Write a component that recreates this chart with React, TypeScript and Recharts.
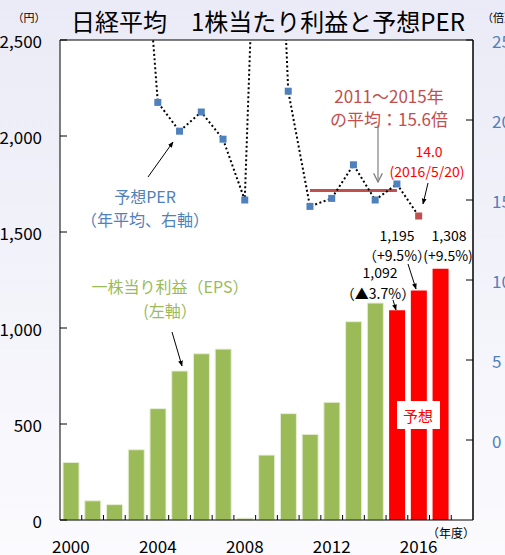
import React from 'react';
import { ComposedChart, Bar, Line, XAxis, YAxis, CartesianGrid, ReferenceLine, Cell } from 'recharts';

// 年度
const years = [2000, 2001, 2002, 2003, 2004, 2005, 2006, 2007, 2008, 2009, 2010, 2011, 2012, 2013, 2014, 2015, 2016, 2017, 2018];
// 一株当り利益（円）
const eps = [300, 100, 80, 366, 580, 776, 866, 890, 9, 338, 554, 446, 613, 1033, 1130, 1092, 1195, 1308, null];
// 予想PER（倍、年平均）
const per = [null, null, null, 39, 21.1, 19.3, 20.5, 18.8, 15.0, 54, 21.8, 14.6, 15.1, 17.2, 15.0, 16.0, 14.0, null, null];
// 2011〜2015年の平均
const perAverage = [null, null, null, null, null, null, null, null, null, null, null, 15.6, 15.6, 15.6, 15.6, 15.6, null, null, null];

const forecastFrom = 2015;
const perLatestYear = 2016;
const labeledYears = [2000, 2004, 2008, 2012, 2016];
const leftTicks = [0, 500, 1000, 1500, 2000, 2500];
const rightTicks = [0, 5, 10, 15, 20, 25];

const data = years.map((year, i) => ({ year, eps: eps[i], per: per[i], avg: perAverage[i] }));

const W = 505;
const H = 555;
const PLOT_W = 413;
const BAND = PLOT_W / years.length;
const FONT = '"Noto Sans CJK JP", "Noto Sans", sans-serif';
const BLUE = '#4F81BD';
const GREEN = '#9BBB59';
const BRICK = '#C0504D';
const RED = '#FF0000';

function LeftTick({ x, y, payload }: any) {
  return (
    <g>
      <line x1={x + 18} x2={x + 25} y1={y} y2={y} stroke="#000" />
      <text x={x} y={y} textAnchor="end" dominantBaseline="central" fontSize={17} fill="#000" fontFamily={FONT}>
        {Number(payload.value).toLocaleString('en-US')}
      </text>
    </g>
  );
}

function RightTick({ x, y, payload }: any) {
  return (
    <g>
      <line x1={x - 19} x2={x - 26} y1={y} y2={y} stroke="#000" />
      <text x={x} y={y} textAnchor="start" dominantBaseline="central" fontSize={17} fill={BLUE} fontFamily={FONT}>
        {payload.value}
      </text>
    </g>
  );
}

function YearTick({ x, y, payload, index }: any) {
  const show = labeledYears.includes(payload.value);
  return (
    <g>
      {index > 0 && <line x1={x - BAND / 2} x2={x - BAND / 2} y1={y} y2={y - 5} stroke="#000" />}
      {show && (
        <text x={x} y={y + 25} textAnchor="middle" dominantBaseline="central" fontSize={17} fill="#000" fontFamily={FONT}>
          {payload.value}
        </text>
      )}
    </g>
  );
}

function PerDot({ cx, cy, payload, index }: any) {
  if (cx == null || cy == null || payload.per == null) return <g key={`d-${index}`} />;
  const fill = payload.year === perLatestYear ? BRICK : BLUE;
  return <rect key={`d-${index}`} x={cx - 3.5} y={cy - 3.5} width={7} height={7} fill={fill} />;
}

function Overlay() {
  const t = { fontFamily: FONT, textAnchor: 'middle' as const, dominantBaseline: 'central' as const };
  return (
    <svg width={W} height={H} style={{ position: 'absolute', left: 0, top: 0, pointerEvents: 'none' }}>
      <defs>
        <marker id="ah" viewBox="0 0 10 10" refX="9" refY="5" markerWidth="6" markerHeight="6" orient="auto">
          <path d="M0,1 L10,5 L0,9 z" fill="#000" />
        </marker>
        <marker id="ahGray" viewBox="0 0 10 10" refX="9" refY="5" markerWidth="9" markerHeight="9" orient="auto">
          <path d="M1,1 L9,5 L1,9" fill="none" stroke="#808080" strokeWidth="1.2" />
        </marker>
      </defs>
      <text x={268} y={20} fontSize={24} fill="#000" {...t}>日経平均　1株当たり利益と予想PER</text>
      <text x={29} y={17} fontSize={11} fill="#000" {...t}>（円）</text>
      <text x={482} y={17} fontSize={11} fill="#000" {...t} textAnchor="start">（倍）</text>

      <text x={145} y={196} fontSize={16} fill={BLUE} {...t}>予想PER</text>
      <text x={145} y={219} fontSize={16} fill={BLUE} {...t}>（年平均、右軸）</text>
      <line x1={148} y1={177} x2={173} y2={142} stroke="#000" strokeWidth={1} markerEnd="url(#ah)" />

      <text x={170} y={286} fontSize={16} fill={GREEN} {...t}>一株当り利益（EPS）</text>
      <text x={170} y={310} fontSize={16} fill={GREEN} {...t}>(左軸）</text>
      <line x1={172} y1={332} x2={182} y2={366} stroke="#000" strokeWidth={1} markerEnd="url(#ah)" />

      <text x={389} y={95} fontSize={17} fill={BRICK} {...t}>2011～2015年</text>
      <text x={389} y={118} fontSize={17} fill={BRICK} {...t}>の平均：15.6倍</text>
      <line x1={378} y1={125} x2={378} y2={182} stroke="#808080" strokeWidth={1.2} markerEnd="url(#ahGray)" />

      <text x={429} y={151} fontSize={14} fill={RED} {...t}>14.0</text>
      <text x={427} y={171} fontSize={14} fill={RED} {...t}>(2016/5/20)</text>
      <line x1={428} y1={183} x2={423} y2={204} stroke="#000" strokeWidth={1} markerEnd="url(#ah)" />

      <text x={397} y={235} fontSize={14} fill="#000" {...t}>1,195</text>
      <text x={397} y={255} fontSize={14} fill="#000" {...t}>（+9.5%）</text>
      <line x1={408} y1={264} x2={416} y2={289} stroke="#000" strokeWidth={1} markerEnd="url(#ah)" />

      <text x={449} y={235} fontSize={14} fill="#000" {...t}>1,308</text>
      <text x={448} y={255} fontSize={14} fill="#000" {...t}>(+9.5%)</text>

      <text x={380} y={272} fontSize={14} fill="#000" {...t}>1,092</text>
      <text x={378} y={293} fontSize={14} fill="#000" {...t}>（▲3.7%）</text>
      <line x1={393} y1={300} x2={396} y2={310} stroke="#000" strokeWidth={1} markerEnd="url(#ah)" />

      <rect x={397} y={401} width={43} height={28} fill="#fff" />
      <text x={418} y={415} fontSize={15} fill={RED} {...t}>予想</text>

      <text x={451} y={532} fontSize={12} fill="#000" {...t}>（年度）</text>
    </svg>
  );
}

export default function App() {
  return (
    <div
      style={{
        position: 'absolute',
        left: 0,
        top: 0,
        width: W,
        height: H,
        overflow: 'hidden',
        background: 'linear-gradient(to bottom, #EBEBF7 0%, #F4F4FB 60%, #FBFBFE 100%)',
      }}
    >
      <ComposedChart
        width={W}
        height={H}
        data={data}
        margin={{ top: 40, right: 0, bottom: 0, left: 0 }}
        barCategoryGap="14%"
      >
        <CartesianGrid horizontal={false} vertical={false} fill="#fff" yAxisId="left" />
        <XAxis
          dataKey="year"
          height={35}
          interval={0}
          tickSize={0}
          tickMargin={0}
          tickLine={false}
          axisLine={{ stroke: '#000' }}
          tick={<YearTick />}
        />
        <YAxis
          yAxisId="left"
          width={60}
          domain={[0, 2500]}
          ticks={leftTicks}
          tickSize={0}
          tickMargin={18}
          tickLine={false}
          axisLine={{ stroke: '#000' }}
          tick={<LeftTick />}
        />
        <YAxis
          yAxisId="right"
          orientation="right"
          width={32}
          domain={[-5, 25]}
          ticks={rightTicks}
          allowDataOverflow
          tickSize={0}
          tickMargin={19}
          tickLine={false}
          axisLine={{ stroke: '#000', strokeWidth: 1.5 }}
          tick={<RightTick />}
        />
        <ReferenceLine yAxisId="left" y={2500} stroke="#000" />
        <Bar yAxisId="left" dataKey="eps" isAnimationActive={false}>
          {data.map((d, i) => (
            <Cell
              key={`c-${i}`}
              fill={d.year >= forecastFrom ? RED : GREEN}
              stroke={d.year >= forecastFrom ? 'none' : '#E6EED5'}
              strokeWidth={1}
            />
          ))}
        </Bar>
        <Line
          yAxisId="right"
          dataKey="avg"
          stroke={BRICK}
          strokeWidth={3}
          dot={false}
          isAnimationActive={false}
        />
        <Line
          yAxisId="right"
          dataKey="per"
          stroke="#000"
          strokeWidth={2}
          strokeDasharray="2 2.5"
          dot={<PerDot />}
          activeDot={false}
          isAnimationActive={false}
        />
      </ComposedChart>
      <Overlay />
    </div>
  );
}
